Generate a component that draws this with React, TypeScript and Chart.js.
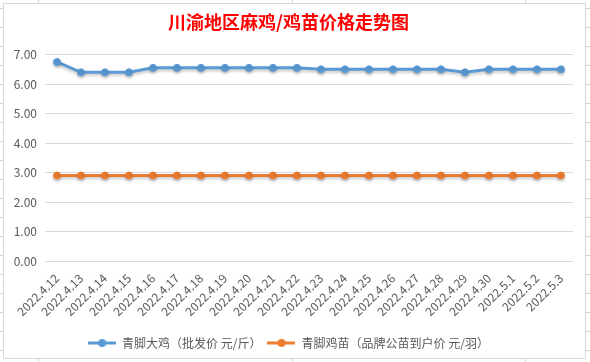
import React, { useEffect, useRef } from "react";
import { Chart, registerables } from "chart.js";

Chart.register(...registerables);

const categories = [
  "2022.4.12", "2022.4.13", "2022.4.14", "2022.4.15", "2022.4.16", "2022.4.17",
  "2022.4.18", "2022.4.19", "2022.4.20", "2022.4.21", "2022.4.22", "2022.4.23",
  "2022.4.24", "2022.4.25", "2022.4.26", "2022.4.27", "2022.4.28", "2022.4.29",
  "2022.4.30", "2022.5.1", "2022.5.2", "2022.5.3",
];
const bigChicken = [
  6.75, 6.4, 6.4, 6.4, 6.55, 6.55, 6.55, 6.55, 6.55, 6.55, 6.55,
  6.5, 6.5, 6.5, 6.5, 6.5, 6.5, 6.4, 6.5, 6.5, 6.5, 6.5,
];
const chicks = [
  2.9, 2.9, 2.9, 2.9, 2.9, 2.9, 2.9, 2.9, 2.9, 2.9, 2.9,
  2.9, 2.9, 2.9, 2.9, 2.9, 2.9, 2.9, 2.9, 2.9, 2.9, 2.9,
];
const seriesNames = ["青脚大鸡（批发价 元/斤）", "青脚鸡苗（品牌公苗到户价 元/羽）"];
const titleText = "川渝地区麻鸡/鸡苗价格走势图";
const yTicks = [0, 1, 2, 3, 4, 5, 6, 7];

const BLUE = "#5B9BD5";
const ORANGE = "#ED7D31";
const FONT = "'Noto Sans CJK SC', 'Noto Sans', sans-serif";

function legendMarker(color: string) {
  const c = document.createElement("canvas");
  c.width = 28;
  c.height = 10;
  const ctx = c.getContext("2d")!;
  ctx.strokeStyle = color;
  ctx.lineWidth = 3;
  ctx.beginPath();
  ctx.moveTo(0, 5);
  ctx.lineTo(28, 5);
  ctx.stroke();
  ctx.fillStyle = color;
  ctx.beginPath();
  ctx.arc(14, 5, 4, 0, Math.PI * 2);
  ctx.fill();
  return c;
}

const shadowPlugin = {
  id: "lineShadow",
  beforeDatasetDraw(chart: any) {
    const ctx = chart.ctx;
    ctx.save();
    ctx.shadowColor = "rgba(0,0,0,0.22)";
    ctx.shadowBlur = 3;
    ctx.shadowOffsetY = 2;
  },
  afterDatasetDraw(chart: any) {
    chart.ctx.restore();
  },
};

export default function App() {
  const ref = useRef<HTMLCanvasElement>(null);
  useEffect(() => {
    if (!ref.current) return;
    const markers = [legendMarker(BLUE), legendMarker(ORANGE)];
    const chart = new Chart(ref.current, {
      type: "line",
      data: {
        labels: categories,
        datasets: [
          {
            label: seriesNames[0],
            data: bigChicken,
            borderColor: BLUE,
            backgroundColor: BLUE,
            borderWidth: 3,
            pointRadius: 3.5,
            pointBorderWidth: 1,
            pointBackgroundColor: BLUE,
            pointBorderColor: BLUE,
            tension: 0,
          },
          {
            label: seriesNames[1],
            data: chicks,
            borderColor: ORANGE,
            backgroundColor: ORANGE,
            borderWidth: 3,
            pointRadius: 3.5,
            pointBorderWidth: 1,
            pointBackgroundColor: ORANGE,
            pointBorderColor: ORANGE,
            tension: 0,
          },
        ],
      },
      options: {
        animation: false,
        responsive: false,
        maintainAspectRatio: false,
        layout: { padding: { left: 0, right: 12, top: 0, bottom: -1 } },
        plugins: {
          title: {
            display: true,
            text: titleText,
            color: "#FF0000",
            font: { family: FONT, size: 18, weight: "bold" },
            padding: { top: 7, bottom: 22 },
          },
          legend: {
            position: "bottom",
            labels: {
              color: "#595959",
              font: { family: FONT, size: 12 },
              usePointStyle: true,
              pointStyleWidth: 28,
              padding: 6,
              generateLabels: (chart: any) =>
                chart.data.datasets.map((ds: any, i: number) => ({
                  text: ds.label,
                  pointStyle: markers[i],
                  fillStyle: ds.borderColor,
                  strokeStyle: ds.borderColor,
                  lineWidth: 0,
                  fontColor: "#595959",
                  hidden: false,
                  datasetIndex: i,
                })),
            },
          },
          tooltip: { enabled: false },
        },
        scales: {
          x: {
            grid: { display: false },
            border: { display: false },
            offset: true,
            ticks: {
              color: "#595959",
              font: { family: FONT, size: 12 },
              minRotation: 45,
              maxRotation: 45,
              autoSkip: false,
              padding: 2,
            },
            afterFit: (scale: any) => {
              scale.height = 70;
            },
          },
          y: {
            min: 0,
            max: 7,
            afterBuildTicks: (scale: any) => {
              scale.ticks = yTicks.map((v) => ({ value: v }));
            },
            grid: { color: "#D9D9D9", lineWidth: 1, drawTicks: false },
            border: { display: false },
            ticks: {
              color: "#595959",
              font: { family: FONT, size: 12 },
              padding: 8,
              callback: (v: any) => Number(v).toFixed(2),
            },
            afterFit: (scale: any) => {
              scale.width = 41;
            },
          },
        },
      },
      plugins: [shadowPlugin],
    } as any);
    return () => chart.destroy();
  }, []);

  const vLines = [38, 292, 525];
  const hLines: number[] = [];
  for (let y = 8; y < 362; y += 19) hLines.push(y);

  return (
    <div
      style={{
        position: "fixed",
        left: 0,
        top: 0,
        width: 590,
        height: 362,
        background: "#FFFFFF",
        overflow: "hidden",
      }}
    >
      {vLines.map((x) => (
        <div key={"v" + x} style={{ position: "absolute", left: x, top: 0, width: 1, height: 362, background: "#D4D4D4" }} />
      ))}
      {hLines.map((y) => (
        <div key={"h" + y} style={{ position: "absolute", left: 0, top: y, width: 590, height: 1, background: "#D4D4D4" }} />
      ))}
      <div
        style={{
          position: "absolute",
          left: 3,
          top: 3,
          width: 581,
          height: 354,
          border: "1px solid #D9D9D9",
          background: "#FFFFFF",
        }}
      >
        <canvas ref={ref} width={581} height={354} style={{ display: "block", width: 581, height: 354 }} />
      </div>
    </div>
  );
}
